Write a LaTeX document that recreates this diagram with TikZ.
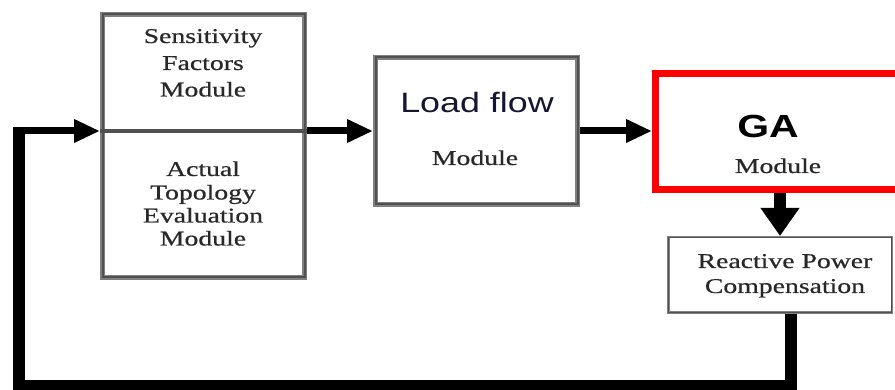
\documentclass[tikz,border=0pt]{standalone}
\usepackage{fontspec}
\setmainfont{Liberation Serif}
\newfontfamily\serifwide[FakeStretch=1.32,FakeBold=0.6]{Liberation Serif}
\newfontfamily\sanswide[FakeStretch=1.28]{Liberation Sans}
\usetikzlibrary{arrows.meta}
\definecolor{boxgray}{RGB}{128,128,128}
\definecolor{boxcore}{RGB}{80,80,80}
\definecolor{txtgray}{RGB}{40,40,40}
\definecolor{lfnavy}{RGB}{22,22,52}
\definecolor{gared}{RGB}{255,0,0}
\begin{document}
\begin{tikzpicture}[x=1pt,y=-1pt,
  graybox/.style={draw=boxgray, line width=5pt, inner sep=0pt,
    postaction={draw=boxcore, line width=2pt}},
  thinbox/.style={draw=boxgray, line width=2.5pt, inner sep=0pt,
    postaction={draw=boxcore, line width=1pt}},
  redbox/.style={draw=gared, line width=7pt, inner sep=0pt},
  label/.style={anchor=base, inner sep=0pt, text=txtgray,
    font=\serifwide\fontsize{21}{25}\selectfont},
  flowarrow/.style={line width=7pt,
    -{Triangle[length=26pt,width=22pt]}},
  downarrow/.style={line width=12pt,
    -{Triangle[length=28pt,width=37pt]}},
  loopline/.style={line width=12pt, line join=miter},
  divider/.style={draw=boxcore, line width=4pt}]

\clip (0,0) rectangle (895,390);

% module boxes
\node[graybox, minimum width=202pt, minimum height=263pt] (sens) at (203.5,146) {};
\node[graybox, minimum width=202pt, minimum height=147pt] (lf) at (476.5,131) {};
\node[redbox, minimum width=249pt, minimum height=116pt] (ga) at (780,131.5) {};
\node[thinbox, minimum width=223.5pt, minimum height=75.5pt] (rpc) at (780,275) {};

% labels of the sensitivity / topology box
\node[label] (s1) at (203,43) {Sensitivity};
\node[label] (s2) at (203,70) {Factors};
\node[label] (s3) at (203,96.5) {Module};
\node[label] (t1) at (203,176) {Actual};
\node[label] (t2) at (203,199.5) {Topology};
\node[label] (t3) at (203,222.5) {Evaluation};
\node[label] (t4) at (203,245.5) {Module};

% load flow labels
\node[label, text=lfnavy, font=\sanswide\fontsize{28}{32}\selectfont] (lf1) at (477,113) {Load flow};
\node[label] (lf2) at (475,165) {Module};

% GA labels
\node[label, text=black, font=\sanswide\bfseries\fontsize{32}{36}\selectfont] (ga1) at (768,138) {GA};
\node[label] (ga2) at (778,173) {Module};

% reactive power labels
\node[label] (r1) at (785,268) {Reactive Power};
\node[label] (r2) at (785,293) {Compensation};

% divider between the two halves of the left box
\draw[divider] (sens.west |- lf.west) -- (sens.east |- lf.west);

% forward flow
\draw[flowarrow] (sens.east |- lf.west) -- (lf.west);
\draw[flowarrow] (lf.east) -- (ga.west |- lf.east);
\draw[downarrow] (ga.south) -- (rpc.north);

% feedback loop
\coordinate (fbcorner) at (18.5,386);
\coordinate (fbtop) at (18.5,127.5);
\coordinate (fbin) at (12.5,131);
\draw[loopline] ([xshift=10.5pt]rpc.south) |- (fbcorner) -- (fbtop);
\draw[flowarrow] (fbin) -- (sens.west |- lf.west);
\end{tikzpicture}
\end{document}
